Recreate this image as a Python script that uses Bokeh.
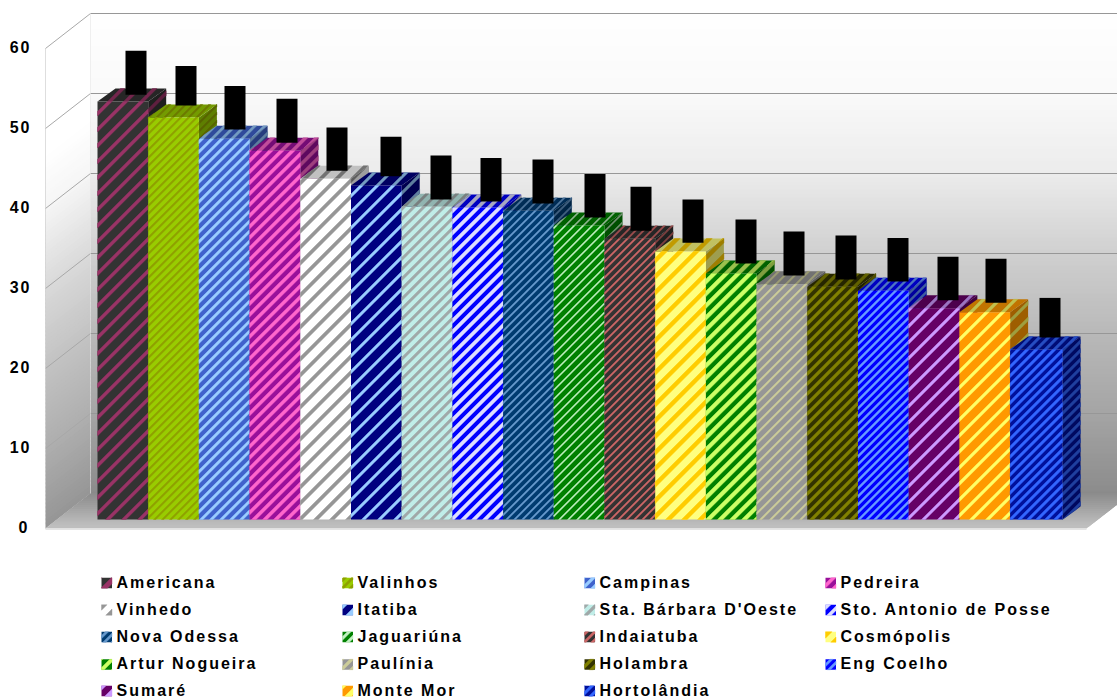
import numpy as np
from bokeh.core.properties import value
from bokeh.embed import file_html
from bokeh.models import FixedTicker, LinearAxis, Range1d
from bokeh.plotting import figure
from bokeh.resources import INLINE

towns = ["Americana", "Valinhos", "Campinas", "Pedreira", "Vinhedo", "Itatiba",
         "Sta. Bárbara D'Oeste", "Sto. Antonio de Posse", "Nova Odessa", "Jaguariúna",
         "Indaiatuba", "Cosmópolis", "Artur Nogueira", "Paulínia", "Holambra",
         "Eng Coelho", "Sumaré", "Monte Mor", "Hortolândia"]
values = [52.25, 50.25, 47.6, 46.1, 42.6, 41.75, 39.1, 39.0, 38.6, 36.75,
          35.1, 33.5, 30.75, 29.4, 29.1, 28.6, 26.4, 25.9, 21.25]
# black blocks standing above each bar, in value units on the bars' plane
block_low = [53.1, 51.75, 48.75, 47.1, 43.6, 42.9, 40.0, 39.75, 39.5, 37.75,
             36.1, 34.6, 32.0, 30.5, 30.0, 29.75, 27.4, 27.1, 22.75]
block_high = [58.5, 56.6, 54.1, 52.5, 48.9, 47.75, 45.4, 45.1, 44.9, 43.1,
              41.5, 39.9, 37.4, 35.9, 35.4, 35.1, 32.75, 32.5, 27.6]
block_left = [125, 175, 224, 276, 326, 380, 430, 480, 532, 584,
              630, 682, 735, 783, 835, 887, 937, 985, 1039]

base_colors = ["#333333", "#99CC00", "#3F62CC", "#99109A", "#FFFFFF", "#000080",
               "#C0EDE8", "#0000FF", "#003B70", "#008000", "#333333", "#FFFF80",
               "#008000", "#969696", "#333300", "#0000FF", "#660066", "#FF9900", "#00109C"]
stripe_colors = ["#993366", "#8FA000", "#99CCFF", "#FF66CC", "#969696", "#99CCFF",
                 "#A0A8A8", "#DDDDFF", "#6699CC", "#BFEFBF", "#CC6666", "#FFCC00",
                 "#CCFF66", "#CCCC99", "#808000", "#6699FF", "#CC99FF", "#FFFF66", "#3366FF"]
stripe_period = [16, 8, 10, 11, 16, 16, 10, 11, 8, 9, 8, 16, 12, 10, 10, 8, 16, 16, 9]
stripe_share = [0.28, 0.3, 0.36, 0.42, 0.3, 0.24, 0.36, 0.44, 0.28, 0.2, 0.28, 0.36, 0.46, 0.24, 0.42, 0.36, 0.24, 0.26, 0.42]

ticks = [0, 10, 20, 30, 40, 50, 60]

PX_PER_UNIT = 8.0
WALL_DX, WALL_DY = 45.0, 35.0 / PX_PER_UNIT
WALL_LEFT, WALL_RIGHT_FRONT = 45.0, 1086.0
BAR_LEFT, BAR_STEP = 97.0, 50.7
LAST_BAR_EXTRA = 1.7
BAR_FLOOR = 9.0 / PX_PER_UNIT
BAR_DX, BAR_DY = 18.0, 13.0 / PX_PER_UNIT


def grey(g):
    g = int(min(g, 255))
    return "#%02X%02X%02X" % (g, g, g)


def shade(color, factor):
    rgb = [int(color[k:k + 2], 16) for k in (1, 3, 5)]
    return "#%02X%02X%02X" % tuple(int(c * factor) for c in rgb)


def clip(poly, coef, limit, keep_above):
    """Clip a polygon against x - coef * y >= limit (or <=)."""
    out = []
    sign = 1 if keep_above else -1
    for a, b in zip(poly, poly[1:] + poly[:1]):
        da = sign * (a[0] - coef * a[1] - limit)
        db = sign * (b[0] - coef * b[1] - limit)
        if da >= 0:
            out.append(a)
        if da * db < 0:
            t = da / (da - db)
            out.append((a[0] + t * (b[0] - a[0]), a[1] + t * (b[1] - a[1])))
    return out


def stripes(poly, period, share):
    """Cut a convex face into 45 degree bands; returns xs and ys lists."""
    us = [x - PX_PER_UNIT * y for x, y in poly]
    first = np.floor(min(us) / period) - 1
    last = np.ceil(max(us) / period) + 1
    xs, ys = [], []
    for k in np.arange(first, last):
        band = clip(poly, PX_PER_UNIT, k * period, True)
        if band:
            band = clip(band, PX_PER_UNIT, k * period + share * period, False)
        if len(band) >= 3:
            xs.append([pt[0] for pt in band])
            ys.append([pt[1] for pt in band])
    return xs, ys


def face(p, poly, base, stripe, period, share):
    p.patch([pt[0] for pt in poly], [pt[1] for pt in poly], fill_color=base, line_color=None)
    xs, ys = stripes(poly, period, share)
    if xs:
        # a faint outline keeps the band edges from looking too hard
        p.patches(xs, ys, fill_color=stripe, line_color=stripe, line_alpha=0.4, line_width=1)


p = figure(width=1117, height=700, output_backend="svg", toolbar_location=None,
           x_range=Range1d(40, 1117), y_range=Range1d(-21.5, 66),
           x_axis_location=None, y_axis_location=None, min_border_left=40, min_border_right=0,
           min_border_top=0, min_border_bottom=0, background_fill_color="#FFFFFF",
           border_fill_color="#FFFFFF", outline_line_color=None)
p.grid.visible = False
p.stylesheets = [":host { letter-spacing: 2px; }"]

# the value labels sit slightly above their wall lines
p.extra_y_ranges = {"labels": Range1d(-21.75, 65.75)}
axis = LinearAxis(y_range_name="labels", ticker=FixedTicker(ticks=ticks))
axis.axis_line_color = None
axis.major_tick_line_color = None
axis.minor_tick_line_color = None
axis.major_label_standoff = 7
axis.major_label_text_font = "Liberation Sans"
axis.major_label_text_font_style = "bold"
axis.major_label_text_font_size = "16px"
axis.major_label_text_color = "#000000"
p.add_layout(axis, "left")

# back wall and side wall shading, stepped by half a value unit
wall_levels = [0, 10, 20, 30, 40, 50, 60]
wall_greys = [140, 165, 185, 208, 236, 250, 255]
steps = np.arange(0, 60, 0.5)
greys = np.interp(steps + 0.25, wall_levels, wall_greys)
p.quad(left=WALL_LEFT + WALL_DX, right=1117, bottom=steps + WALL_DY, top=steps + 0.5 + WALL_DY + 0.05,
       fill_color=[grey(g) for g in greys], line_color=None)
p.patches([[WALL_LEFT, WALL_LEFT + WALL_DX, WALL_LEFT + WALL_DX, WALL_LEFT]] * len(steps),
          [[s, s + WALL_DY, s + 0.75 + WALL_DY, s + 0.75] for s in steps],
          fill_color=[grey(g + 10) for g in greys], line_color=None)

# floor, shaded from the back edge towards the front
floor_n = 18
floor_t = np.linspace(0, 1, floor_n + 1)
floor_xs, floor_ys, floor_cols = [], [], []
for a, b in zip(floor_t[:-1], floor_t[1:]):
    floor_xs.append([WALL_LEFT + WALL_DX * a, WALL_RIGHT_FRONT + WALL_DX * a,
                     WALL_RIGHT_FRONT + WALL_DX * (b + 0.06), WALL_LEFT + WALL_DX * (b + 0.06)])
    floor_ys.append([WALL_DY * a, WALL_DY * a, WALL_DY * (b + 0.06), WALL_DY * (b + 0.06)])
    floor_cols.append(grey(194 - 56 * b))
# paint from the back edge forward so each band overlaps the one behind it
p.patches(floor_xs[::-1], floor_ys[::-1], fill_color=floor_cols[::-1], line_color=None)
p.segment(WALL_LEFT, -0.1, WALL_RIGHT_FRONT, -0.1, line_color="#E4E4E4", line_width=1.5)

# grid lines on both walls
p.segment(WALL_LEFT + WALL_DX, [t + WALL_DY for t in ticks[1:]], 1117, [t + WALL_DY for t in ticks[1:]],
          line_color="#979797", line_width=1)
p.segment(WALL_LEFT, ticks[1:], WALL_LEFT + WALL_DX, [t + WALL_DY for t in ticks[1:]],
          line_color="#A8A8A8", line_width=1)
p.segment(WALL_LEFT, 0, WALL_LEFT, 60, line_color="#C8C8C8", line_width=1, line_alpha=0.6)
p.segment(WALL_LEFT + WALL_DX, WALL_DY, WALL_LEFT + WALL_DX, 60 + WALL_DY,
          line_color="#E0E0E0", line_width=1, line_alpha=0.5)

# the 3D bars, drawn left to right so each one covers its neighbour's side
for i, (val, base, stripe, per, share) in enumerate(zip(values, base_colors, stripe_colors, stripe_period, stripe_share)):
    x0 = BAR_LEFT + BAR_STEP * i
    x1 = x0 + BAR_STEP + (LAST_BAR_EXTRA if i == len(values) - 1 else 0)
    y0 = BAR_FLOOR
    y1 = val + BAR_FLOOR
    side = [(x1, y0), (x1 + BAR_DX, y0 + BAR_DY), (x1 + BAR_DX, y1 + BAR_DY), (x1, y1)]
    top = [(x0, y1), (x1, y1), (x1 + BAR_DX, y1 + BAR_DY), (x0 + BAR_DX, y1 + BAR_DY)]
    front = [(x0, y0), (x1, y0), (x1, y1), (x0, y1)]
    face(p, side, shade(base, 0.62), shade(stripe, 0.62), per, share)
    face(p, top, shade(base, 0.76), shade(stripe, 0.76), per, share)
    face(p, front, base, stripe, per, share)

# black blocks above the bars
p.quad(left=block_left, right=[x + 21 for x in block_left],
       bottom=[v + BAR_FLOOR for v in block_low], top=[v + BAR_FLOOR + 0.1 for v in block_high],
       fill_color="#000000", line_color=None)

# legend in four columns: swatch plus label
legend_columns = [101, 342, 584, 825]
legend_rows = [582.5, 609.5, 636.5, 664, 690.5]
label_x, label_y = [], []
for i, (town, base, stripe, per, share) in enumerate(zip(towns, base_colors, stripe_colors, stripe_period, stripe_share)):
    col = legend_columns[i % 4]
    row = (528 - legend_rows[i // 4]) / PX_PER_UNIT
    half = 5.25 / PX_PER_UNIT
    swatch = [(col, row - half), (col + 10.5, row - half), (col + 10.5, row + half), (col, row + half)]
    face(p, swatch, base, stripe, max(per, 8), 0.42)
    label_x.append(col + 15)
    label_y.append(row + 0.08)
p.text(label_x, label_y, text=towns, text_font=value("Liberation Sans"), text_font_style="bold",
       text_font_size="16px", text_color="#000000", text_baseline="middle", text_align="left")

open("out.html", "w").write(file_html(p, INLINE))
